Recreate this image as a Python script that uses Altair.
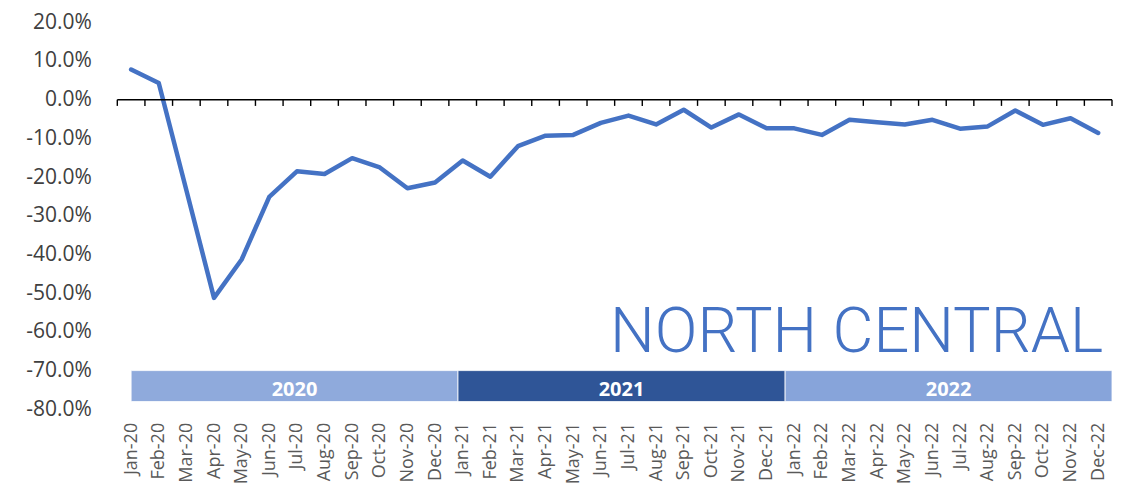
import altair as alt
import pandas as pd

months = ["Jan-20", "Feb-20", "Mar-20", "Apr-20", "May-20", "Jun-20", "Jul-20", "Aug-20",
          "Sep-20", "Oct-20", "Nov-20", "Dec-20", "Jan-21", "Feb-21", "Mar-21", "Apr-21",
          "May-21", "Jun-21", "Jul-21", "Aug-21", "Sep-21", "Oct-21", "Nov-21", "Dec-21",
          "Jan-22", "Feb-22", "Mar-22", "Apr-22", "May-22", "Jun-22", "Jul-22", "Aug-22",
          "Sep-22", "Oct-22", "Nov-22", "Dec-22"]
values = [7.8, 4.3, -23.4, -51.2, -41.3, -25.1, -18.5, -19.2, -15.1, -17.5, -22.9, -21.4,
          -15.7, -19.9, -12.0, -9.3, -9.1, -6.0, -4.1, -6.4, -2.6, -7.2, -3.8, -7.4,
          -7.4, -9.1, -5.2, -5.8, -6.4, -5.2, -7.5, -6.9, -2.8, -6.5, -4.8, -8.6]

years = ["2020", "2021", "2022"]
year_start = [0, 11.83, 23.67]
year_end = [11.83, 23.67, 35.5]
year_colors = ["#8FAADC", "#2F5597", "#87A4DA"]

y_ticks = [20, 10, 0, -10, -20, -30, -40, -50, -60, -70, -80]
title_text = ["NORTH CENTRAL"]

df = pd.DataFrame({"i": list(range(len(months))), "month": months, "value": values})
bands = pd.DataFrame({"year": years, "start": year_start, "end": year_end, "color": year_colors})
bounds = pd.DataFrame({"b": [k - 0.5 for k in range(len(months) + 1)]})
title_df = pd.DataFrame({"t": title_text})

label_expr = "[" + ",".join(f"'{m}'" for m in months) + "][datum.value]"

x_scale = alt.Scale(domain=[-0.5, 35.5], nice=False, zero=False)
y_scale = alt.Scale(domain=[-80, 20], nice=False, zero=False)

x_axis = alt.Axis(
    values=list(range(36)), labelExpr=label_expr, labelAngle=270,
    domain=False, ticks=False, grid=False, title=None,
    labelFont="Open Sans", labelFontSize=18, labelColor="#595959",
    labelPadding=13, labelOverlap=False, labelBound=False, labelFlush=False)
y_axis = alt.Axis(
    values=y_ticks,
    labelExpr="(datum.value < 0 ? '-' : '') + format(abs(datum.value), '.1f') + '%'",
    domain=False, ticks=False, grid=False, title=None,
    labelFont="Open Sans", labelFontSize=21, labelColor="#404040",
    labelPadding=26, labelOverlap=False, labelBound=False, labelFlush=False)

line = alt.Chart(df).mark_line(
    color="#4472C4", strokeWidth=4.5, strokeCap="round", strokeJoin="round"
).encode(
    x=alt.X("i:Q", scale=x_scale, axis=x_axis),
    y=alt.Y("value:Q", scale=y_scale, axis=y_axis),
)

band_rects = alt.Chart(bands).mark_rect(stroke="white", strokeWidth=0.8).encode(
    x=alt.X("start:Q", scale=x_scale, axis=x_axis), x2="end:Q",
    y=alt.YDatum(-70, scale=y_scale, axis=y_axis), y2=alt.datum(-78),
    color=alt.Color("color:N", scale=None),
)

band_text = alt.Chart(bands).transform_calculate(
    mid="(datum.start + datum.end) / 2"
).mark_text(
    color="white", font="Open Sans", fontWeight="bold", fontSize=20, baseline="middle"
).encode(
    x=alt.X("mid:Q", scale=x_scale, axis=x_axis),
    y=alt.YDatum(-75, scale=y_scale, axis=y_axis),
    text="year:N"
)

zero_line = alt.Chart(title_df).mark_rule(color="#000000", strokeWidth=1.4).encode(
    x=alt.XDatum(-0.5, scale=x_scale, axis=x_axis), x2=alt.datum(35.5),
    y=alt.YDatum(0, scale=y_scale, axis=y_axis)
)

ticks = alt.Chart(bounds).mark_rule(color="#000000", strokeWidth=1.4).encode(
    x=alt.X("b:Q", scale=x_scale, axis=x_axis),
    y=alt.YDatum(0, scale=y_scale, axis=y_axis), y2=alt.datum(-1.6)
)

title = alt.Chart(title_df).mark_text(
    font="Roboto", fontWeight=300, fontSize=63, color="#4472C4",
    align="right", baseline="alphabetic"
).encode(
    x=alt.value(986), y=alt.value(329.4), text="t:N"
)

chart = alt.layer(line, band_rects, band_text, zero_line, ticks, title).properties(
    width=994.7, height=387,
    autosize=alt.AutoSizeParams(type="none"),
    padding={"left": 109.3, "top": 14.3, "right": 7, "bottom": 82},
).configure_view(stroke=None)

chart.save("out.html", embed_options={"renderer": "svg", "actions": False})
